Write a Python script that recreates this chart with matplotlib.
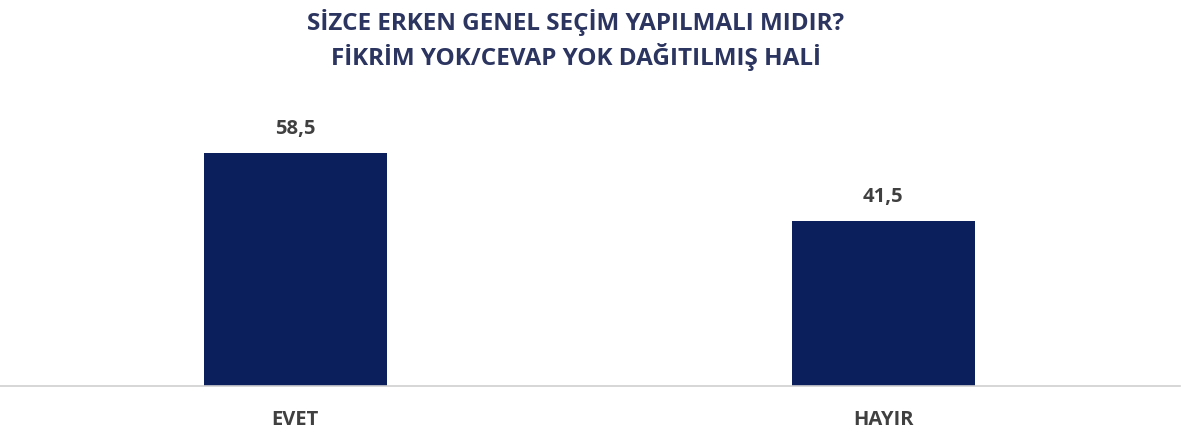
import matplotlib.pyplot as plt

# --- data ---
categories = ['EVET', 'HAYIR']
values = [58.5, 41.5]
value_labels = ['58,5', '41,5']
title_lines = ['SİZCE ERKEN GENEL SEÇİM YAPILMALI MIDIR?',
               'FİKRİM YOK/CEVAP YOK DAĞITILMIŞ HALİ']

BAR_COLOR = '#0b1f5c'
TEXT_COLOR = '#404040'
TITLE_COLOR = '#2b3560'
FONT = ['Open Sans', 'DejaVu Sans']

W, H = 1187, 438
fig = plt.figure(figsize=(W / 100, H / 100), dpi=100)
ax = fig.add_axes([0, (H - 386) / H, 1180 / W, 278.8 / H])

x = list(range(len(categories)))
ax.bar(x, values, width=0.311, color=BAR_COLOR)
ax.set_xlim(-0.502, 1.505)
ax.set_ylim(0, 70)

for xi, v, lab in zip(x, values, value_labels):
    ax.annotate(lab, (xi, v), xytext=(0, 10), textcoords='offset points',
                ha='center', va='bottom', fontsize=14.5, fontweight='bold',
                color=TEXT_COLOR, family=FONT)

ax.set_xticks(x)
ax.set_xticklabels(categories, fontsize=14.5, fontweight='bold',
                   color=TEXT_COLOR, family=FONT)
ax.tick_params(axis='x', length=0, pad=17)
ax.set_yticks([])
for s in ['top', 'right', 'left']:
    ax.spines[s].set_visible(False)
ax.spines['bottom'].set_color('#d0d0d0')
ax.spines['bottom'].set_linewidth(1.2)

fig.text(0.485, 1 - 22 / H, title_lines[0], ha='center', va='center',
         fontsize=17.5, fontweight='bold', color=TITLE_COLOR, family=FONT)
fig.text(0.485, 1 - 57 / H, title_lines[1], ha='center', va='center',
         fontsize=17.5, fontweight='bold', color=TITLE_COLOR, family=FONT)

fig.savefig('out.png', dpi=100)
